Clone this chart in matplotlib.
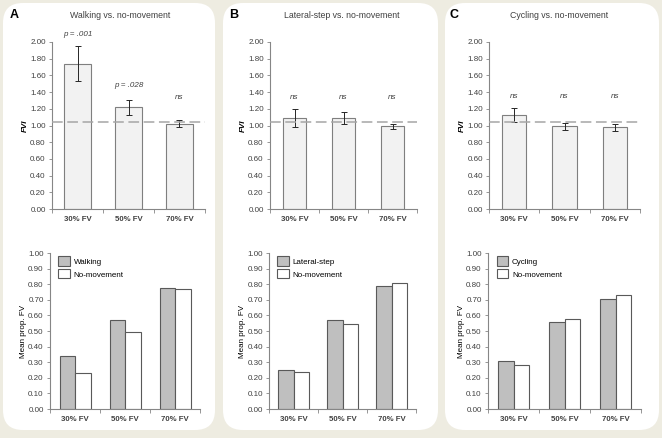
import matplotlib
matplotlib.use('Agg')
import matplotlib.pyplot as plt
from matplotlib.patches import FancyBboxPatch
import numpy as np

plt.rcParams['font.family'] = ['Liberation Sans', 'DejaVu Sans']

W, H = 662, 438

categories = ['30% FV', '50% FV', '70% FV']
titles = ['Walking vs. no-movement', 'Lateral-step vs. no-movement', 'Cycling vs. no-movement']
letters = ['A', 'B', 'C']
movement_names = ['Walking', 'Lateral-step', 'Cycling']

# FVI (top row)
fvi_walking = [1.74, 1.22, 1.02]
fvi_walking_err = [0.21, 0.09, 0.04]
fvi_lateral = [1.09, 1.09, 0.99]
fvi_lateral_err = [0.11, 0.07, 0.03]
fvi_cycling = [1.13, 0.99, 0.98]
fvi_cycling_err = [0.085, 0.045, 0.04]
fvi_reference = 1.04

sig_walking = ['p = .001', 'p = .028', 'ns']
sig_walking_y = [2.09, 1.48, 1.33]
sig_lateral = ['ns', 'ns', 'ns']
sig_lateral_y = [1.33, 1.33, 1.33]
sig_cycling = ['ns', 'ns', 'ns']
sig_cycling_y = [1.35, 1.35, 1.35]

# mean proportion FV (bottom row)
prop_walking = [0.34, 0.57, 0.775]
prop_walking_none = [0.23, 0.495, 0.77]
prop_lateral = [0.25, 0.57, 0.79]
prop_lateral_none = [0.24, 0.545, 0.81]
prop_cycling = [0.31, 0.56, 0.705]
prop_cycling_none = [0.285, 0.58, 0.73]

fvi = [fvi_walking, fvi_lateral, fvi_cycling]
fvi_err = [fvi_walking_err, fvi_lateral_err, fvi_cycling_err]
sigs = [sig_walking, sig_lateral, sig_cycling]
sigs_y = [sig_walking_y, sig_lateral_y, sig_cycling_y]
props = [prop_walking, prop_lateral, prop_cycling]
props_none = [prop_walking_none, prop_lateral_none, prop_cycling_none]

bg = '#EEECE1'
axis_col = '#868686'
text_col = '#404040'

fig = plt.figure(figsize=(W / 100, H / 100), dpi=100, facecolor=bg)


def px_rect(x0, y0, x1, y1):
    # pixel box (top-left origin) -> figure fraction rect
    return [x0 / W, 1 - y1 / H, (x1 - x0) / W, (y1 - y0) / H]


def style_axes(ax):
    for s in ['top', 'right']:
        ax.spines[s].set_visible(False)
    for s in ['left', 'bottom']:
        ax.spines[s].set_color(axis_col)
        ax.spines[s].set_linewidth(0.8)
    ax.set_facecolor('none')
    ax.tick_params(axis='y', colors=axis_col, labelcolor=text_col, labelsize=5.8,
                   length=2.5, width=0.6, pad=2)
    x = np.arange(len(categories))
    ax.set_xlim(-0.5, len(categories) - 0.5)
    ax.set_xticks(x)
    ax.set_xticklabels(categories, fontsize=5.6, fontweight='bold', color=text_col)
    ax.set_xticks(np.arange(-0.5, len(categories), 1.0), minor=True)
    ax.tick_params(axis='x', which='major', length=0, pad=5)
    ax.tick_params(axis='x', which='minor', length=3, width=0.6, color=axis_col)


panels = [(3, 215), (223, 438), (445, 659)]
top_axes = [(52, 205), (270, 417), (489, 640)]
bot_axes = [(50, 200), (269, 416), (488, 641)]
top_bw = [0.53, 0.47, 0.48]
title_x = [120, 342, 559]
letter_x = [10, 229, 450]

x = np.arange(len(categories))

for i in range(3):
    px0, px1 = panels[i]
    box = FancyBboxPatch((px0 / W, 8 / H), (px1 - px0) / W, (435 - 8) / H,
                         boxstyle='round,pad=0,rounding_size=0.03',
                         transform=fig.transFigure, facecolor='white',
                         edgecolor='none', zorder=-5, mutation_aspect=W / H)
    fig.patches.append(box)

    fig.text(letter_x[i] / W, 1 - 15 / H, letters[i], fontsize=9, fontweight='bold',
             color='black', va='center', ha='left')
    fig.text(title_x[i] / W, 1 - 15 / H, titles[i], fontsize=6.3, color=text_col,
             va='center', ha='center')

    # top: FVI
    l, r = top_axes[i]
    ax = fig.add_axes(px_rect(l, 42, r, 209))
    style_axes(ax)
    ax.bar(x, fvi[i], width=top_bw[i], color='#F2F2F2', edgecolor='#7F7F7F',
           linewidth=0.8, zorder=2)
    ax.errorbar(x, fvi[i], yerr=fvi_err[i], fmt='none', ecolor='#262626',
                elinewidth=0.7, capsize=2, capthick=0.7, zorder=3)
    ax.axhline(fvi_reference, color='#A6A6A6', linestyle=(0, (7, 3)),
               linewidth=1.1, zorder=4)
    for xi, s, sy in zip(x, sigs[i], sigs_y[i]):
        ax.text(xi, sy, s, fontsize=5.8, style='italic', color=text_col,
                ha='center', va='center', clip_on=False)
    ax.set_ylim(0, 2.0)
    ax.set_yticks(np.arange(0, 2.01, 0.2))
    ax.set_yticklabels(['%.2f' % v for v in np.arange(0, 2.01, 0.2)])
    ax.set_ylabel('FVI', fontsize=5.8, fontweight='bold', style='italic',
                  color='black', labelpad=1)

    # bottom: mean proportion FV
    l, r = bot_axes[i]
    ax2 = fig.add_axes(px_rect(l, 253, r, 409))
    style_axes(ax2)
    bw = 0.31
    ax2.bar(x - bw / 2, props[i], width=bw, color='#BFBFBF', edgecolor='#595959',
            linewidth=0.8, zorder=2, label=movement_names[i])
    ax2.bar(x + bw / 2, props_none[i], width=bw, color='white', edgecolor='#595959',
            linewidth=0.8, zorder=2, label='No-movement')
    ax2.set_ylim(0, 1.0)
    ax2.set_yticks(np.arange(0, 1.01, 0.1))
    ax2.set_yticklabels(['%.2f' % v for v in np.arange(0, 1.01, 0.1)])
    ax2.set_ylabel('Mean prop. FV', fontsize=5.8, color='black', labelpad=1)
    ax2.legend(loc='upper left', bbox_to_anchor=(0.035, 1.0), frameon=False,
               fontsize=5.8, handlelength=1.4, handleheight=1.4,
               handletextpad=0.5, labelspacing=0.45, borderaxespad=0)

fig.savefig('out.png', dpi=100, facecolor=bg)
